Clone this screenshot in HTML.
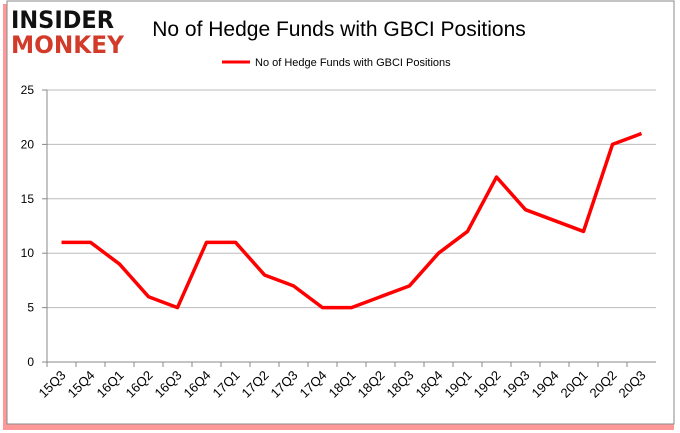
<!DOCTYPE html>
<html><head><style>
body{margin:0;background:#fff;font-family:"Liberation Sans",sans-serif}
svg{display:block}
</style></head><body>
<svg width="680" height="433">
<rect x="3" y="4" width="671" height="426" fill="#f44" opacity="0.55"/>
<rect x="7" y="1" width="667" height="423" fill="#fff" stroke="#888"/>
<g font-weight="bold" font-family="'DejaVu Sans',sans-serif">
<text x="11" y="28" font-size="24" fill="#111" textLength="103" lengthAdjust="spacingAndGlyphs">INSIDER</text>
<text x="11" y="53" font-size="24" fill="#d23a2a" textLength="113" lengthAdjust="spacingAndGlyphs">MONKEY</text>
</g>
<text x="339" y="36" font-size="21" text-anchor="middle" fill="#000">No of Hedge Funds with GBCI Positions</text>
<line x1="222" y1="62" x2="250" y2="62" stroke="red" stroke-width="3"/>
<text x="255" y="66" font-size="11" fill="#000">No of Hedge Funds with GBCI Positions</text>
<g id="axes"></g>
<g id="marks"></g>
</svg>
<script>
const categories=["15Q3","15Q4","16Q1","16Q2","16Q3","16Q4","17Q1","17Q2","17Q3","17Q4","18Q1","18Q2","18Q3","18Q4","19Q1","19Q2","19Q3","19Q4","20Q1","20Q2","20Q3"];
const values=[11,11,9,6,5,11,11,8,7,5,5,6,7,10,12,17,14,13,12,20,21];
const yTicks=[0,5,10,15,20,25];
const NS="http://www.w3.org/2000/svg";
const L=47,R=656,T=90,B=362,YMAX=25;
const step=(R-L)/categories.length;
const xs=i=>L+step*(i+0.5);
const ys=v=>B-(v/YMAX)*(B-T);
const axes=document.getElementById('axes'),marks=document.getElementById('marks');
function mk(tag,a,p){const e=document.createElementNS(NS,tag);for(const k in a)e.setAttribute(k,a[k]);p.appendChild(e);return e;}
yTicks.forEach(t=>{
 const g=mk('line',{x1:L,x2:R,y1:ys(t),y2:ys(t),stroke:t===0?'#888':'#bbb'},axes);
 
 
 const tk=mk('line',{x1:L-5,x2:L,y1:ys(t),y2:ys(t),stroke:'#888'},axes);
 
 
 const tx=mk('text',{x:L-13,y:ys(t)+4,'font-size':12,'text-anchor':'end'},axes);
 tx.textContent=t;
 
 
});
const ya=mk('line',{x1:L,x2:L,y1:T,y2:B,stroke:'#888'},axes);


categories.forEach((c,i)=>{
 const x0=L+step*i;
 const tk=mk('line',{x1:x0,x2:x0,y1:B,y2:B+5,stroke:'#888'},axes);
 
 
 const x=xs(i);
 const tx=mk('text',{x:x+5,y:B+14,'font-size':13,'text-anchor':'end',transform:`rotate(-45 ${x+5} ${B+14})`},axes);
 tx.textContent=c;
 
 
});
const ln=mk('polyline',{points:values.map((v,i)=>xs(i)+','+ys(v)).join(' '),fill:'none',stroke:'red','stroke-width':3.5,'stroke-linejoin':'round'},marks);


</script>
</body></html>
